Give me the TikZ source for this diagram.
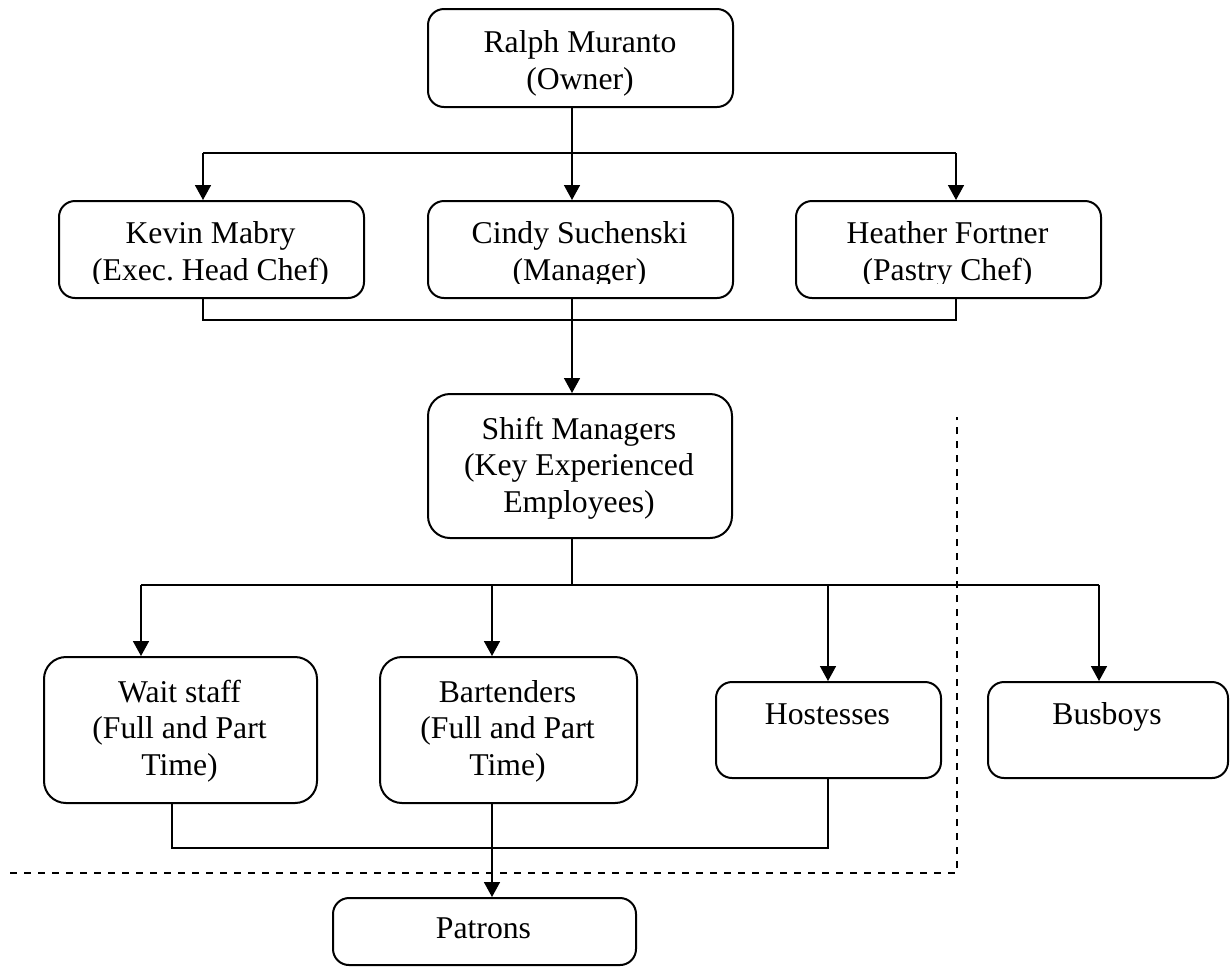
\documentclass[tikz,border=0pt]{standalone}
\usepackage{fontspec}
\setmainfont{Liberation Serif}
\usetikzlibrary{arrows.meta}
\frenchspacing
\begin{document}
\begin{tikzpicture}[x=0.5pt,y=-0.5pt,
  box/.style={draw, line width=1pt, rounded corners=8pt, anchor=north west, inner sep=0pt},
  tallbox/.style={box, rounded corners=11pt},
  lbl/.style={font=\fontsize{15.85pt}{18.25pt}\selectfont, align=center, anchor=base, inner sep=0pt},
  conn/.style={line width=0.8pt},
  arr/.style={conn, -{Triangle[length=7.5pt,width=8pt]}},
  divider/.style={line width=1.2pt, dash pattern=on 3.5pt off 3.5pt}
]
\useasboundingbox (0,0) rectangle (1230,966);

% boxes
\node[box, minimum width=152.5pt, minimum height=49pt] (ralph) at (427,8) {};
\node[box, minimum width=152.5pt, minimum height=48.5pt] (kevin) at (58,200) {};
\node[box, minimum width=152.5pt, minimum height=48.5pt] (cindy) at (427,200) {};
\node[box, minimum width=152.5pt, minimum height=48.5pt] (heather) at (795,200) {};
\node[tallbox, minimum width=152pt, minimum height=72pt] (shift) at (427,393) {};
\node[tallbox, minimum width=136.5pt, minimum height=73pt] (wait) at (43,656) {};
\node[tallbox, minimum width=128.5pt, minimum height=73pt] (bart) at (379,656) {};
\node[box, minimum width=112.5pt, minimum height=48pt] (host) at (715,681) {};
\node[box, minimum width=120pt, minimum height=48pt] (bus) at (987,681) {};
\node[box, minimum width=151.5pt, minimum height=33.5pt] (patrons) at (332,897) {};

% texts (anchor=base refers to the last line)
\node[lbl] (ralphT) at (580,89) {Ralph Muranto\\(Owner)};
\coordinate (clipy) at (0,283);
\begin{scope}
  \clip (kevin.north west) rectangle (heather.east |- clipy);
  \node[lbl] (kevinT) at (210.5,280) {Kevin Mabry\\(Exec. Head Chef)};
  \node[lbl] (cindyT) at (579.5,280) {Cindy Suchenski\\(Manager)};
  \node[lbl] (heatherT) at (947.5,280) {Heather Fortner\\(Pastry Chef)};
\end{scope}
\node[lbl] (shiftT) at (579,512) {Shift Managers\\(Key Experienced\\Employees)};
\node[lbl] (waitT) at (179.5,775) {Wait staff\\(Full and Part\\Time)};
\node[lbl] (bartT) at (507.5,775) {Bartenders\\(Full and Part\\Time)};
\node[lbl] (hostT) at (827.5,724) {Hostesses};
\node[lbl] (busT) at (1107,724) {Busboys};
\node[lbl] (patronsT) at (483.5,938) {Patrons};

% lanes
\coordinate (xa) at (572,0);
\coordinate (xk) at (203,0);
\coordinate (xh) at (956,0);
\coordinate (xw) at (141,0);
\coordinate (xb) at (492,0);
\coordinate (xho) at (828,0);
\coordinate (xbu) at (1099,0);
\coordinate (xw2) at (172,0);
\coordinate (topbus) at (0,153);
\coordinate (midbus) at (0,320);
\coordinate (lowbus) at (0,585);
\coordinate (botbus) at (0,848);

% connectors
\draw[arr] (ralph.south -| xa) -- (cindy.north -| xa);
\draw[conn] (xk |- topbus) -- (xh |- topbus);
\draw[arr] (xk |- topbus) -- (kevin.north -| xk);
\draw[arr] (xh |- topbus) -- (heather.north -| xh);
\draw[conn] (kevin.south -| xk) -- (xk |- midbus) -- (xh |- midbus) -- (heather.south -| xh);
\draw[arr] (cindy.south -| xa) -- (shift.north -| xa);
\draw[conn] (shift.south -| xa) -- (xa |- lowbus);
\draw[conn] (xw |- lowbus) -- (xbu |- lowbus);
\draw[arr] (xw |- lowbus) -- (wait.north -| xw);
\draw[arr] (xb |- lowbus) -- (bart.north -| xb);
\draw[arr] (xho |- lowbus) -- (host.north -| xho);
\draw[arr] (xbu |- lowbus) -- (bus.north -| xbu);
\draw[conn] (wait.south -| xw2) -- (xw2 |- botbus) -- (xho |- botbus) -- (host.south -| xho);
\draw[arr] (bart.south -| xb) -- (patrons.north -| xb);

% dashed divider
\coordinate (dl) at (10,873);
\coordinate (dc) at (957,873);
\coordinate (dt) at (957,417);
\draw[divider] (dl) -- (dc) -- (dt);
\end{tikzpicture}
\end{document}
